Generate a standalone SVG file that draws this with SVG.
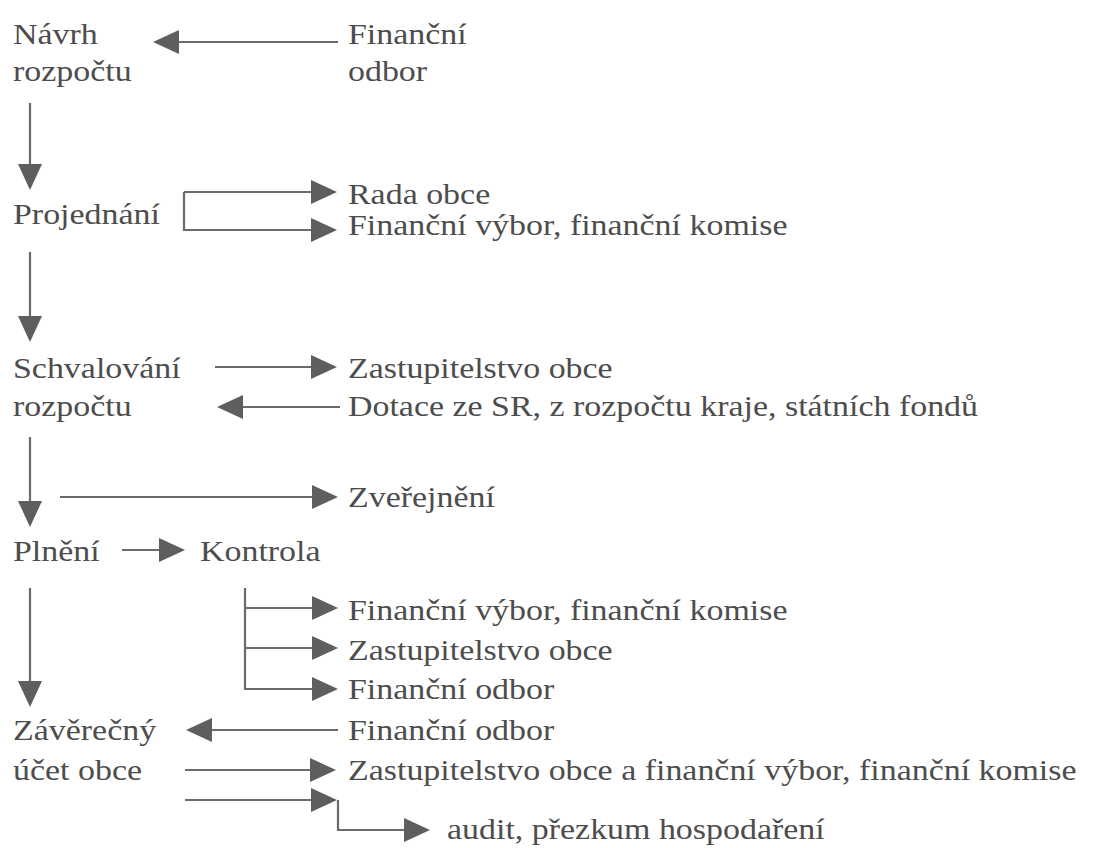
<svg xmlns="http://www.w3.org/2000/svg" width="1093" height="848" viewBox="0 0 1093 848">
<style>
  .t { font-family: "Liberation Serif", "Times New Roman", serif; font-size: 29px; fill: #4d4d4d; }
  .c { fill: none; stroke: #6b6b6b; stroke-width: 2.2; marker-end: url(#ah); }
  .p { fill: none; stroke: #6b6b6b; stroke-width: 2.2; }
</style>
<defs>
  <marker id="ah" markerUnits="userSpaceOnUse" markerWidth="26" markerHeight="24" refX="22" refY="12" orient="auto">
    <path d="M0,0 L26,12 L0,24 Z" fill="#5e5e5e"/>
  </marker>
</defs>
<rect width="1093" height="848" fill="#ffffff"/>

<g id="connectors">
  <path class="c" d="M338,42 H157"/>
  <path class="c" d="M30,103 V186"/>
  <path class="c" d="M184,192 H333"/>
  <path class="c" d="M184,192 V230 H333"/>
  <path class="c" d="M30,252 V338"/>
  <path class="c" d="M215,367 H333"/>
  <path class="c" d="M340,407 H221"/>
  <path class="c" d="M30,437 V523"/>
  <path class="c" d="M60,497 H334"/>
  <path class="c" d="M122,550 H181"/>
  <path class="c" d="M30,588 V703"/>
  <path class="c" d="M245,588 V689 H334"/>
  <path class="c" d="M245,608 H334"/>
  <path class="c" d="M245,648 H334"/>
  <path class="c" d="M338,730 H190"/>
  <path class="c" d="M185,770 H332"/>
  <path class="c" d="M185,800 H333"/>
  <path class="c" d="M338,800 V830 H426"/>
</g>

<g id="navrh"><text class="t" transform="translate(13,44) scale(1.17,1)">Návrh</text><text class="t" transform="translate(13,81) scale(1.17,1)">rozpočtu</text></g>
<g id="financni-odbor-1"><text class="t" transform="translate(348,44) scale(1.17,1)">Finanční</text><text class="t" transform="translate(348,81) scale(1.17,1)">odbor</text></g>
<g id="projednani"><text class="t" transform="translate(13,224) scale(1.17,1)">Projednání</text></g>
<g id="rada-obce"><text class="t" transform="translate(348,204) scale(1.17,1)">Rada obce</text></g>
<g id="financni-vybor-1"><text class="t" transform="translate(348,235) scale(1.17,1)">Finanční výbor, finanční komise</text></g>
<g id="schvalovani"><text class="t" transform="translate(13,378) scale(1.17,1)">Schvalování</text><text class="t" transform="translate(13,416) scale(1.17,1)">rozpočtu</text></g>
<g id="zastupitelstvo-1"><text class="t" transform="translate(348,378) scale(1.17,1)">Zastupitelstvo obce</text></g>
<g id="dotace"><text class="t" transform="translate(348,416) scale(1.17,1)">Dotace ze SR, z rozpočtu kraje, státních fondů</text></g>
<g id="zverejneni"><text class="t" transform="translate(348,507) scale(1.17,1)">Zveřejnění</text></g>
<g id="plneni"><text class="t" transform="translate(13,561) scale(1.17,1)">Plnění</text></g>
<g id="kontrola"><text class="t" transform="translate(200,561) scale(1.17,1)">Kontrola</text></g>
<g id="financni-vybor-2"><text class="t" transform="translate(348,620) scale(1.17,1)">Finanční výbor, finanční komise</text></g>
<g id="zastupitelstvo-2"><text class="t" transform="translate(348,660) scale(1.17,1)">Zastupitelstvo obce</text></g>
<g id="financni-odbor-2"><text class="t" transform="translate(348,699) scale(1.17,1)">Finanční odbor</text></g>
<g id="zaverecny-ucet"><text class="t" transform="translate(13,740) scale(1.17,1)">Závěrečný</text><text class="t" transform="translate(13,780) scale(1.17,1)">účet obce</text></g>
<g id="financni-odbor-3"><text class="t" transform="translate(348,740) scale(1.17,1)">Finanční odbor</text></g>
<g id="zastupitelstvo-3"><text class="t" transform="translate(348,780) scale(1.17,1)">Zastupitelstvo obce a finanční výbor, finanční komise</text></g>
<g id="audit"><text class="t" transform="translate(447,839) scale(1.17,1)">audit, přezkum hospodaření</text></g>
</svg>
